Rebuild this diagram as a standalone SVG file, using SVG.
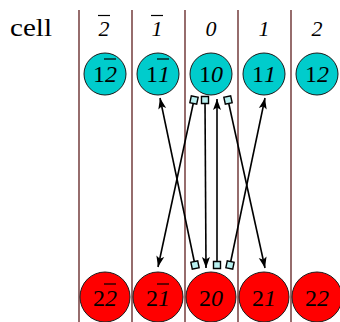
<svg xmlns="http://www.w3.org/2000/svg" width="340" height="322" viewBox="0 0 340 322">
  <style>
    text { font-family: "Liberation Serif", "DejaVu Serif", serif; fill: #000; }
    .sep { stroke: #5e1e1e; stroke-width: 1.3; }
    .hdr { font-style: italic; font-size: 22px; text-anchor: middle; }
    .lbl { font-size: 24px; text-anchor: middle; }
    .it { font-style: italic; }
    .bar { stroke: #000; stroke-width: 1.2; }
    .top { fill: #00cccc; stroke: #1a1a1a; stroke-width: 1; }
    .bot { fill: #ff0000; stroke: #1a1a1a; stroke-width: 1; }
    .link { stroke: #000; stroke-width: 1.6; fill: none; marker-start: url(#box); marker-end: url(#head); }
  </style>
  <defs>
    <marker id="head" markerUnits="userSpaceOnUse" markerWidth="14" markerHeight="10" refX="11" refY="4.5" orient="auto">
      <path d="M0,0.5 L11,4.5 L0,8.5 L2.5,4.5 Z" fill="#000"/>
    </marker>
    <marker id="box" markerUnits="userSpaceOnUse" markerWidth="12" markerHeight="12" refX="6" refY="6" orient="auto">
      <rect x="2.5" y="2.5" width="7" height="7" fill="#b8f0f0" stroke="#000" stroke-width="1.4"/>
    </marker>
  </defs>

  <!-- column separators -->
  <g id="separators">
    <line class="sep" x1="79" y1="10" x2="79" y2="322"/>
    <line class="sep" x1="132" y1="10" x2="132" y2="322"/>
    <line class="sep" x1="185" y1="10" x2="185" y2="322"/>
    <line class="sep" x1="238" y1="10" x2="238" y2="322"/>
    <line class="sep" x1="291" y1="10" x2="291" y2="322"/>
  </g>

  <!-- header row -->
  <g id="header">
    <text x="10" y="36" font-size="26" textLength="42" lengthAdjust="spacingAndGlyphs">cell</text>
    <text class="hdr" x="104" y="36">2</text>
    <line class="bar" x1="98" y1="15.5" x2="110" y2="15.5"/>
    <text class="hdr" x="157" y="36">1</text>
    <line class="bar" x1="151" y1="15.5" x2="163" y2="15.5"/>
    <text class="hdr" x="211" y="36">0</text>
    <text class="hdr" x="264" y="36">1</text>
    <text class="hdr" x="317" y="36">2</text>
  </g>

  <!-- upper row -->
  <g id="n1m2"><circle class="top" cx="105" cy="74" r="21"/><text class="lbl" x="105" y="82">1<tspan class="it">2</tspan></text><line class="bar" x1="104" y1="59" x2="116" y2="59"/></g>
  <g id="n1m1"><circle class="top" cx="158" cy="74" r="21"/><text class="lbl" x="158" y="82">1<tspan class="it">1</tspan></text><line class="bar" x1="157" y1="59" x2="169" y2="59"/></g>
  <g id="n10"><circle class="top" cx="211" cy="74" r="21"/><text class="lbl" x="211" y="82">1<tspan class="it">0</tspan></text></g>
  <g id="n11"><circle class="top" cx="264" cy="74" r="21"/><text class="lbl" x="264" y="82">1<tspan class="it">1</tspan></text></g>
  <g id="n12"><circle class="top" cx="317" cy="74" r="21"/><text class="lbl" x="317" y="82">1<tspan class="it">2</tspan></text></g>

  <!-- lower row -->
  <g id="n2m2"><circle class="bot" cx="105" cy="297" r="25"/><text class="lbl" x="105" y="306">2<tspan class="it">2</tspan></text><line class="bar" x1="104" y1="284" x2="116" y2="284"/></g>
  <g id="n2m1"><circle class="bot" cx="158" cy="297" r="25"/><text class="lbl" x="158" y="306">2<tspan class="it">1</tspan></text><line class="bar" x1="157" y1="284" x2="169" y2="284"/></g>
  <g id="n20"><circle class="bot" cx="211" cy="297" r="25"/><text class="lbl" x="211" y="306">2<tspan class="it">0</tspan></text></g>
  <g id="n21"><circle class="bot" cx="264" cy="297" r="25"/><text class="lbl" x="264" y="306">2<tspan class="it">1</tspan></text></g>
  <g id="n22"><circle class="bot" cx="317" cy="297" r="25"/><text class="lbl" x="317" y="306">2<tspan class="it">2</tspan></text></g>

  <!-- connectors -->
  <g id="connectors">
    <line class="link" x1="194" y1="100" x2="158" y2="267"/>
    <line class="link" x1="205" y1="100" x2="206" y2="268"/>
    <line class="link" x1="228" y1="100" x2="265" y2="268"/>
    <line class="link" x1="195" y1="265" x2="160" y2="98"/>
    <line class="link" x1="217" y1="265" x2="217" y2="99"/>
    <line class="link" x1="230" y1="265" x2="265" y2="98"/>
  </g>
</svg>
